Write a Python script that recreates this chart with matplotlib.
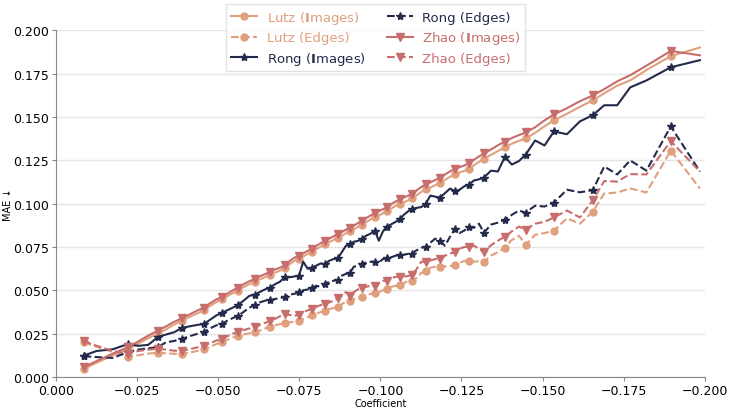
import matplotlib.pyplot as plt
import numpy as np

# coefficient values (plotted on a reversed, negative x axis)
coef = [0.0085, 0.0125, 0.0175,
        0.0222, 0.0253, 0.0284,
        0.0314, 0.0339, 0.0364,
        0.0388, 0.0411, 0.0434,
        0.0456, 0.0475, 0.0494,
        0.0512, 0.0528, 0.0545,
        0.0561, 0.0578, 0.0596,
        0.0613, 0.0628, 0.0644,
        0.0659, 0.0675, 0.0690,
        0.0706, 0.0720, 0.0735,
        0.0749, 0.0762, 0.0776,
        0.0789, 0.0802, 0.0816,
        0.0829, 0.0842, 0.0856,
        0.0869, 0.0881, 0.0894,
        0.0906, 0.0918, 0.0931,
        0.0943, 0.0956, 0.0970,
        0.0983, 0.0995, 0.1008,
        0.1020, 0.1033, 0.1047,
        0.1060, 0.1072, 0.1085,
        0.1097, 0.1111, 0.1126,
        0.1140, 0.1154, 0.1169,
        0.1183, 0.1199, 0.1215,
        0.1230, 0.1244, 0.1259,
        0.1273, 0.1288, 0.1304,
        0.1319, 0.1341, 0.1362,
        0.1384, 0.1405, 0.1427,
        0.1448, 0.1477, 0.1506,
        0.1535, 0.1575, 0.1615,
        0.1655, 0.1690, 0.1730, 0.1770, 0.1820,
        0.1895, 0.1985]

lutz_images = [0.0046, 0.0082, 0.0124,
               0.0159, 0.0192, 0.0224,
               0.0249, 0.0275, 0.0302,
               0.0324, 0.0346, 0.0366,
               0.0384, 0.0410, 0.0432,
               0.0448, 0.0465, 0.0484,
               0.0498, 0.0518, 0.0536,
               0.0549, 0.0563, 0.0576,
               0.0588, 0.0602, 0.0613,
               0.0628, 0.0650, 0.0670,
               0.0682, 0.0695, 0.0710,
               0.0722, 0.0737, 0.0752,
               0.0766, 0.0778, 0.0791,
               0.0804, 0.0815, 0.0829,
               0.0841, 0.0852, 0.0866,
               0.0878, 0.0893, 0.0909,
               0.0922, 0.0932, 0.0944,
               0.0956, 0.0971, 0.0987,
               0.0999, 0.1008, 0.1018,
               0.1030, 0.1047, 0.1067,
               0.1083, 0.1093, 0.1106,
               0.1118, 0.1137, 0.1155,
               0.1169, 0.1179, 0.1189,
               0.1201, 0.1221, 0.1240,
               0.1258, 0.1281, 0.1303,
               0.1325, 0.1345, 0.1362,
               0.1376, 0.1408, 0.1446,
               0.1480, 0.1518, 0.1558,
               0.1595, 0.1636, 0.1680, 0.1710, 0.1770,
               0.1850, 0.1900]

lutz_edges = [0.0200, 0.0175, 0.0145,
              0.0116, 0.0125, 0.0135,
              0.0140, 0.0137, 0.0134,
              0.0133, 0.0140, 0.0150,
              0.0160, 0.0175, 0.0190,
              0.0200, 0.0215, 0.0228,
              0.0237, 0.0245, 0.0252,
              0.0258, 0.0268, 0.0280,
              0.0290, 0.0298, 0.0305,
              0.0310, 0.0315, 0.0320,
              0.0325, 0.0335, 0.0345,
              0.0355, 0.0365, 0.0375,
              0.0382, 0.0392, 0.0398,
              0.0405, 0.0420, 0.0435,
              0.0440, 0.0450, 0.0458,
              0.0462, 0.0468, 0.0480,
              0.0485, 0.0490, 0.0500,
              0.0510, 0.0520, 0.0526,
              0.0530, 0.0540, 0.0555,
              0.0555, 0.0570, 0.0600,
              0.0613, 0.0630, 0.0636,
              0.0636, 0.0638, 0.0640,
              0.0645, 0.0658, 0.0670,
              0.0668, 0.0665, 0.0668,
              0.0665, 0.0700, 0.0720,
              0.0746, 0.0790, 0.0815,
              0.0763, 0.0820, 0.0830,
              0.0844, 0.0915, 0.0884,
              0.0954, 0.1058, 0.1064, 0.1087, 0.1064,
              0.1306, 0.1087]

rong_images = [0.0123, 0.0150, 0.0160,
               0.0190, 0.0180, 0.0185,
               0.0230, 0.0245, 0.0258,
               0.0283, 0.0292, 0.0300,
               0.0306, 0.0330, 0.0355,
               0.0370, 0.0385, 0.0400,
               0.0415, 0.0440, 0.0468,
               0.0475, 0.0490, 0.0505,
               0.0515, 0.0535, 0.0549,
               0.0578, 0.0575, 0.0580,
               0.0584, 0.0665, 0.0624,
               0.0630, 0.0642, 0.0655,
               0.0650, 0.0670, 0.0680,
               0.0685, 0.0720, 0.0757,
               0.0765, 0.0780, 0.0785,
               0.0798, 0.0815, 0.0827,
               0.0844, 0.0786, 0.0840,
               0.0867, 0.0880, 0.0895,
               0.0910, 0.0935, 0.0955,
               0.0970, 0.0975, 0.0980,
               0.1000, 0.1046, 0.1040,
               0.1035, 0.1060, 0.1087,
               0.1070, 0.1080, 0.1100,
               0.1110, 0.1133, 0.1140,
               0.1150, 0.1190, 0.1185,
               0.1270, 0.1225, 0.1245,
               0.1283, 0.1364, 0.1335,
               0.1416, 0.1400, 0.1474,
               0.1510, 0.1567, 0.1567, 0.1670, 0.1710,
               0.1786, 0.1827]

rong_edges = [0.0120, 0.0115, 0.0110,
              0.0144, 0.0158, 0.0165,
              0.0173, 0.0200, 0.0208,
              0.0220, 0.0235, 0.0248,
              0.0260, 0.0280, 0.0298,
              0.0306, 0.0325, 0.0340,
              0.0353, 0.0375, 0.0400,
              0.0415, 0.0430, 0.0440,
              0.0442, 0.0450, 0.0455,
              0.0462, 0.0475, 0.0480,
              0.0490, 0.0500, 0.0505,
              0.0515, 0.0526, 0.0520,
              0.0535, 0.0549, 0.0555,
              0.0560, 0.0584, 0.0595,
              0.0600, 0.0636, 0.0642,
              0.0653, 0.0660, 0.0665,
              0.0665, 0.0660, 0.0680,
              0.0685, 0.0690, 0.0700,
              0.0702, 0.0705, 0.0710,
              0.0712, 0.0730, 0.0745,
              0.0750, 0.0775, 0.0798,
              0.0786, 0.0757, 0.0810,
              0.0855, 0.0830, 0.0845,
              0.0867, 0.0860, 0.0884,
              0.0832, 0.0879, 0.0890,
              0.0908, 0.0935, 0.0960,
              0.0948, 0.0988, 0.0983,
              0.1006, 0.1080, 0.1065,
              0.1078, 0.1214, 0.1168, 0.1249, 0.1190,
              0.1445, 0.1185]

zhao_images = [0.0056, 0.0092, 0.0135,
               0.0172, 0.0205, 0.0238,
               0.0268, 0.0292, 0.0318,
               0.0339, 0.0360, 0.0382,
               0.0400, 0.0425, 0.0447,
               0.0463, 0.0480, 0.0500,
               0.0515, 0.0535, 0.0552,
               0.0566, 0.0580, 0.0593,
               0.0605, 0.0620, 0.0630,
               0.0645, 0.0668, 0.0688,
               0.0700, 0.0713, 0.0728,
               0.0740, 0.0756, 0.0772,
               0.0786, 0.0798, 0.0812,
               0.0825, 0.0836, 0.0850,
               0.0862, 0.0873, 0.0888,
               0.0900, 0.0916, 0.0932,
               0.0945, 0.0956, 0.0968,
               0.0980, 0.0996, 0.1012,
               0.1025, 0.1035, 0.1045,
               0.1057, 0.1075, 0.1096,
               0.1112, 0.1122, 0.1136,
               0.1148, 0.1168, 0.1186,
               0.1200, 0.1210, 0.1220,
               0.1232, 0.1252, 0.1272,
               0.1289, 0.1312, 0.1336,
               0.1358, 0.1378, 0.1395,
               0.1410, 0.1440, 0.1480,
               0.1514, 0.1550, 0.1590,
               0.1624, 0.1660, 0.1705, 0.1740, 0.1795,
               0.1880, 0.1855]

zhao_edges = [0.0208, 0.0180, 0.0150,
              0.0133, 0.0150, 0.0158,
              0.0162, 0.0158, 0.0152,
              0.0150, 0.0160, 0.0170,
              0.0180, 0.0195, 0.0210,
              0.0220, 0.0235, 0.0250,
              0.0260, 0.0270, 0.0280,
              0.0288, 0.0300, 0.0312,
              0.0322, 0.0335, 0.0350,
              0.0364, 0.0358, 0.0353,
              0.0360, 0.0372, 0.0385,
              0.0393, 0.0405, 0.0415,
              0.0420, 0.0430, 0.0440,
              0.0455, 0.0470, 0.0490,
              0.0468, 0.0490, 0.0505,
              0.0515, 0.0520, 0.0526,
              0.0526, 0.0540, 0.0555,
              0.0555, 0.0570, 0.0578,
              0.0578, 0.0580, 0.0582,
              0.0590, 0.0620, 0.0665,
              0.0665, 0.0672, 0.0680,
              0.0680, 0.0700, 0.0712,
              0.0720, 0.0740, 0.0750,
              0.0750, 0.0757, 0.0740,
              0.0720, 0.0760, 0.0786,
              0.0810, 0.0840, 0.0867,
              0.0850, 0.0884, 0.0895,
              0.0920, 0.0960, 0.0920,
              0.1020, 0.1130, 0.1127, 0.1170, 0.1168,
              0.1360, 0.1185]

labels = [r'Lutz ($\mathbf{I}$mages)', 'Lutz (Edges)',
          r'Rong ($\mathbf{I}$mages)', 'Rong (Edges)',
          r'Zhao ($\mathbf{I}$mages)', 'Zhao (Edges)']

lutz_c = '#E09F7D'
rong_c = '#232A4A'
zhao_c = '#C76E6D'

x = -np.array(coef)
marks = list(range(0, 85, 3)) + [89]

fig = plt.figure(figsize=(7.29, 4.10), dpi=100)
ax = fig.add_axes([0.0768, 0.078, 0.890, 0.846])

series = [(lutz_images, lutz_c, '-', 'o'),
          (lutz_edges, lutz_c, '--', 'o'),
          (rong_images, rong_c, '-', '*'),
          (rong_edges, rong_c, '--', '*'),
          (zhao_images, zhao_c, '-', 'v'),
          (zhao_edges, zhao_c, '--', 'v')]
for (vals, col, ls, mk), lab in zip(series, labels):
    ax.plot(x, vals, color=col, linestyle=ls, marker=mk, markevery=marks,
            markersize=6 if mk != 'o' else 5, linewidth=1.5, label=lab)

ax.set_xlim(0, -0.2)
ax.set_ylim(0, 0.2)
xt = np.arange(0, -0.2001, -0.025)
ax.set_xticks(xt)
ax.set_xticklabels(['0.000'] + ['\u2212%.3f' % -v for v in xt[1:]])
ax.set_yticks(np.arange(0, 0.2001, 0.025))
ax.yaxis.set_major_formatter(plt.FormatStrFormatter('%.3f'))
ax.tick_params(labelsize=9, length=3, pad=2, color='#888888')
ax.yaxis.grid(True, color='#e5e5e5', linewidth=1)
ax.set_axisbelow(True)
for s in ['top', 'right']:
    ax.spines[s].set_visible(False)
for s in ['left', 'bottom']:
    ax.spines[s].set_color('#888888')
ax.set_xlabel('Coefficient', fontsize=7, labelpad=1)
ax.set_ylabel('MAE \u2193', fontsize=7)
ax.yaxis.set_label_coords(-0.066, 0.5)

leg = ax.legend(loc='upper center', bbox_to_anchor=(0.493, 1.093), ncol=2,
                fontsize=9.5, frameon=True, edgecolor='#dddddd', fancybox=False,
                handlelength=2.0, columnspacing=1.6, borderpad=0.35,
                labelspacing=0.4, handletextpad=0.7)
for txt, line in zip(leg.get_texts(), leg.get_lines()):
    txt.set_color(line.get_color())

fig.savefig('out.png', dpi=100)
